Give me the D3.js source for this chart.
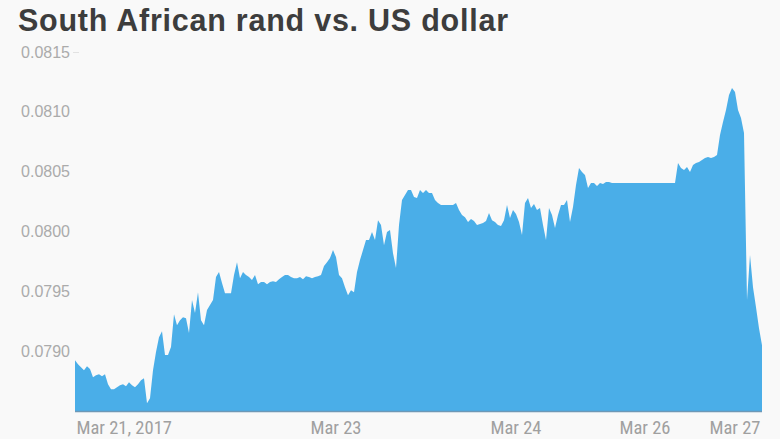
<!DOCTYPE html>
<html>
<head>
<meta charset="utf-8">
<script src="https://cdn.jsdelivr.net/npm/d3@7"></script>
<style>
  html, body { margin: 0; padding: 0; background: #f9f9f9; }
  svg { display: block; }
</style>
</head>
<body>
<svg id="chart" width="780" height="439"></svg>
<script>
// ---- data ----
const title = "South African rand vs. US dollar";

// ZAR/USD rate, evenly spaced trading observations (Mar 21 – Mar 27, 2017)
const rates = [
  0.078925, 0.078891, 0.078866, 0.078841, 0.078875, 0.078850, 0.078783, 0.078799, 0.078808, 0.078791,
  0.078808, 0.078724, 0.078682, 0.078682, 0.078699, 0.078716, 0.078724, 0.078707, 0.078741, 0.078716,
  0.078699, 0.078724, 0.078758, 0.078774, 0.078565, 0.078607, 0.078841, 0.078992, 0.079117, 0.079167,
  0.078967, 0.078967, 0.079034, 0.079309, 0.079217, 0.079259, 0.079284, 0.079276, 0.079151, 0.079427,
  0.079318, 0.079493, 0.079259, 0.079217, 0.079343, 0.079385, 0.079427, 0.079619, 0.079661, 0.079569,
  0.079485, 0.079485, 0.079485, 0.079636, 0.079744, 0.079610, 0.079661, 0.079636, 0.079619, 0.079594,
  0.079636, 0.079560, 0.079577, 0.079577, 0.079560, 0.079577, 0.079585, 0.079577, 0.079602, 0.079619,
  0.079636, 0.079636, 0.079619, 0.079610, 0.079610, 0.079619, 0.079602, 0.079627, 0.079619, 0.079610,
  0.079619, 0.079627, 0.079636, 0.079711, 0.079744, 0.079778, 0.079845, 0.079786, 0.079636, 0.079610,
  0.079535, 0.079468, 0.079510, 0.079493, 0.079661, 0.079761, 0.079845, 0.079928, 0.079928, 0.079995,
  0.079928, 0.080095, 0.080054, 0.079886, 0.079995, 0.080012, 0.079819, 0.079694, 0.080054, 0.080263,
  0.080304, 0.080346, 0.080346, 0.080288, 0.080279, 0.080346, 0.080321, 0.080346, 0.080321, 0.080321,
  0.080263, 0.080238, 0.080221, 0.080221, 0.080221, 0.080221, 0.080221, 0.080238, 0.080179, 0.080137,
  0.080120, 0.080079, 0.080104, 0.080087, 0.080054, 0.080062, 0.080070, 0.080087, 0.080154, 0.080095,
  0.080079, 0.080054, 0.080045, 0.080095, 0.080221, 0.080112, 0.080179, 0.080146, 0.080079, 0.079970,
  0.080238, 0.080279, 0.080196, 0.080229, 0.080179, 0.080196, 0.080054, 0.079928, 0.080196, 0.080137,
  0.080029, 0.080137, 0.080221, 0.080221, 0.080263, 0.080079, 0.080204, 0.080388, 0.080530, 0.080497,
  0.080472, 0.080363, 0.080405, 0.080405, 0.080380, 0.080405, 0.080396, 0.080413, 0.080413, 0.080405,
  0.080405, 0.080405, 0.080405, 0.080405, 0.080405, 0.080405, 0.080405, 0.080405, 0.080405, 0.080405,
  0.080405, 0.080405, 0.080405, 0.080405, 0.080405, 0.080405, 0.080405, 0.080405, 0.080405, 0.080405,
  0.080405, 0.080572, 0.080530, 0.080513, 0.080538, 0.080497, 0.080555, 0.080572, 0.080580, 0.080597,
  0.080614, 0.080622, 0.080614, 0.080622, 0.080639, 0.080806, 0.080915, 0.081015, 0.081140, 0.081199,
  0.081166, 0.081015, 0.080948, 0.080823, 0.079427, 0.079803, 0.079535, 0.079368, 0.079192, 0.079050
];

// x-axis labels and the observation index where each date begins
const xTickLabels = ["Mar 21, 2017", "Mar 23", "Mar 24", "Mar 26", "Mar 27"];
const xTickIndex  = [0, 78, 138, 181, 211];

// y-axis ticks
const yTicks = [0.0790, 0.0795, 0.0800, 0.0805, 0.0810, 0.0815];
const yDomain = [0.0785, 0.0815];

// ---- drawing ----
const svg = d3.select("#chart");
const W = 780, H = 439;
const m = { left: 75, right: 18, top: 52, bottom: 28 };

const x = d3.scaleLinear().domain([0, rates.length - 1]).range([m.left, W - m.right]);
const y = d3.scaleLinear().domain(yDomain).range([H - m.bottom, m.top]);

svg.append("rect").attr("width", W).attr("height", H).attr("fill", "#f9f9f9");

svg.append("text")
  .attr("x", 18).attr("y", 31)
  .attr("font-family", "'Liberation Sans', Arial, sans-serif")
  .attr("font-weight", "bold")
  .attr("font-size", 30.5)
  .attr("textLength", 490)
  .attr("lengthAdjust", "spacing")
  .attr("fill", "#3d3d3d")
  .text(title);

const area = d3.area()
  .x((d, i) => x(i))
  .y0(y(yDomain[0]))
  .y1(d => y(d));

svg.append("path")
  .datum(rates)
  .attr("d", area)
  .attr("fill", "#4aaee8");

// baseline
svg.append("line")
  .attr("x1", x(0)).attr("x2", x(rates.length - 1))
  .attr("y1", y(yDomain[0]) + 0.5).attr("y2", y(yDomain[0]) + 0.5)
  .attr("stroke", "#6e98b6").attr("stroke-width", 1.5);

// y axis
const yAxis = d3.axisLeft(y)
  .tickValues(yTicks)
  .tickFormat(d3.format(".4f"))
  .tickSize(0)
  .tickPadding(5);

const gy = svg.append("g")
  .attr("transform", `translate(${m.left},0)`)
  .call(yAxis);
gy.select(".domain").remove();
gy.selectAll("text")
  .attr("font-family", "'Liberation Sans', Arial, sans-serif")
  .attr("font-size", 16)
  .attr("fill", "#ababab");

// small tick mark at the top value
svg.append("line")
  .attr("x1", m.left - 2).attr("x2", m.left + 4)
  .attr("y1", y(yDomain[1]) + 0.5).attr("y2", y(yDomain[1]) + 0.5)
  .attr("stroke", "#e2e2e2").attr("stroke-width", 1);

// x axis
const xAxis = d3.axisBottom(x)
  .tickValues(xTickIndex)
  .tickFormat((d, i) => xTickLabels[i])
  .tickSize(0)
  .tickPadding(10);

const gx = svg.append("g")
  .attr("transform", `translate(0,${H - m.bottom})`)
  .call(xAxis);
gx.select(".domain").remove();
gx.selectAll("text")
  .attr("text-anchor", "start")
  .attr("x", 1)
  .attr("font-family", "'Liberation Sans Narrow', 'Roboto Condensed', Roboto, sans-serif")
  .attr("font-size", 18.5)
  .attr("fill", "#a0a0a0");
</script>
</body>
</html>
